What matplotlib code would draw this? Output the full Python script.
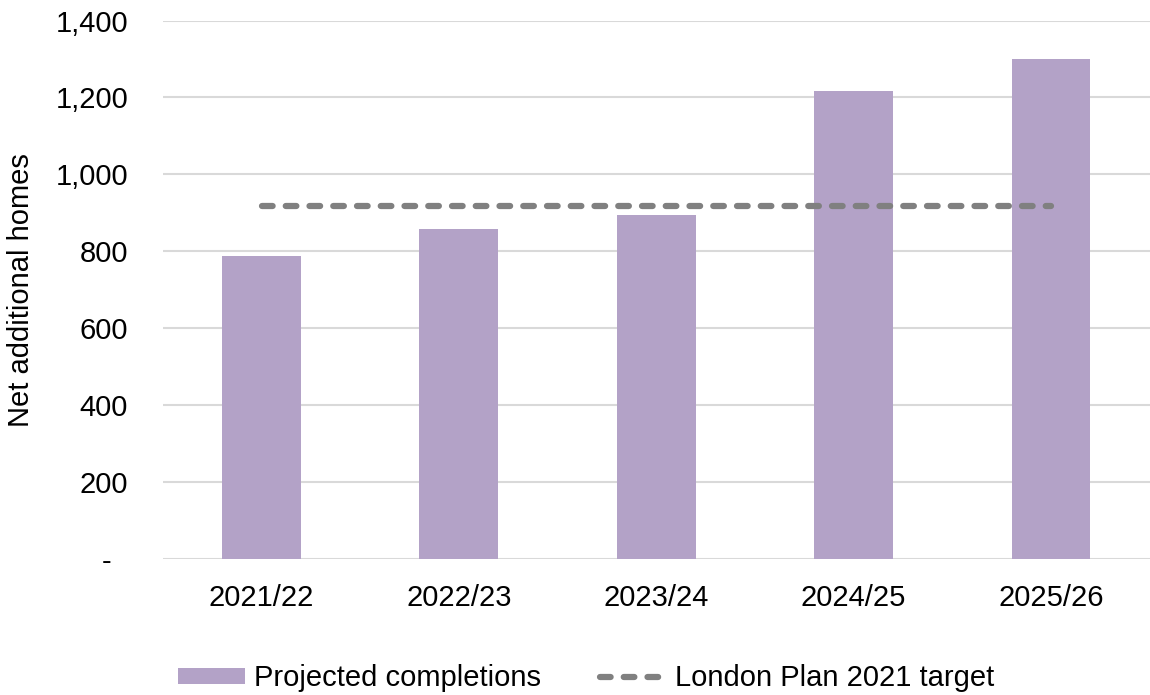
import numpy as np
import matplotlib
matplotlib.use("Agg")
from matplotlib import pyplot as plt

# Data
years = ["2021/22", "2022/23", "2023/24", "2024/25", "2025/26"]
completions = [789, 858, 896, 1217, 1299]
target = [917, 917, 917, 917, 917]
y_ticks = [0, 200, 400, 600, 800, 1000, 1200, 1400]
y_labels = ["-  ", "200", "400", "600", "800", "1,000", "1,200", "1,400"]

plt.rcParams['font.family'] = ['Liberation Sans', 'DejaVu Sans']
fs = 21

fig = plt.figure(figsize=(11.5, 6.95), dpi=100)
ax = fig.add_axes([0.1417, 0.195, 0.858, 0.7755])

x = np.arange(len(years))
bars = ax.bar(x, completions, width=0.4, color="#B3A2C7", zorder=2, label="Projected completions")
line, = ax.plot(x, target, color="#808080", linewidth=4.5, linestyle=(0, (1.7, 2.1)),
                dash_capstyle="round", zorder=3, label="London Plan 2021 target")

ax.set_xlim(-0.5, 4.5)
ax.set_ylim(0, 1400)
ax.set_xticks(x)
ax.set_xticklabels(years, fontsize=fs)
ax.set_yticks(y_ticks)
ax.set_yticklabels(y_labels, fontsize=fs)
ax.tick_params(length=0)
ax.tick_params(axis="x", pad=18)
ax.tick_params(axis="y", pad=25)
ax.grid(axis="y", color="#D9D9D9", linewidth=1.5, zorder=0)
for s in ax.spines.values():
    s.set_visible(False)

ax.set_ylabel("Net additional homes", fontsize=fs, labelpad=15)

# legend below the plot, bars first
fig.legend(handles=[bars, line], loc="center", bbox_to_anchor=(0.510, 0.024), ncol=2,
           frameon=False, fontsize=fs, handlelength=2.3, handleheight=0.5,
           handletextpad=0.3, columnspacing=2.0)

plt.savefig("out.png", dpi=100)
